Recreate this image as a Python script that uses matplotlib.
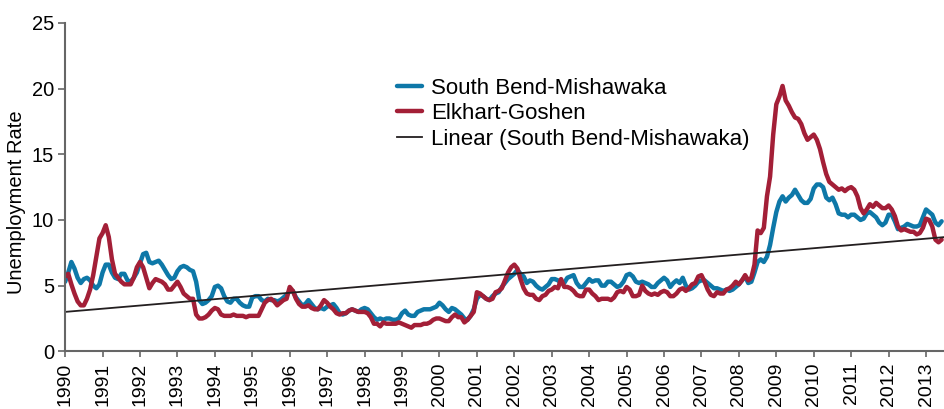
import numpy as np
import matplotlib
matplotlib.use("Agg")
import matplotlib.pyplot as plt

plt.rcParams['font.family'] = ['Liberation Sans', 'DejaVu Sans']

# Monthly unemployment rate, Jan 1990 - Jun 2013
south_bend = [
    5.3, 6.0, 6.8, 6.3, 5.6, 5.2, 5.5, 5.6, 5.4, 5.0, 4.8, 5.1,   # 1990
    6.0, 6.6, 6.6, 6.0, 5.6, 5.5, 5.9, 5.9, 5.4, 5.3, 5.6, 6.0,   # 1991
    6.7, 7.4, 7.5, 6.8, 6.7, 6.8, 6.9, 6.6, 6.2, 5.8, 5.5, 5.6,   # 1992
    6.1, 6.4, 6.5, 6.4, 6.2, 6.1, 5.3, 3.9, 3.6, 3.7, 3.9, 4.2,   # 1993
    4.9, 5.0, 4.8, 4.2, 3.8, 3.7, 4.0, 4.0, 3.7, 3.5, 3.4, 3.4,   # 1994
    4.1, 4.2, 4.2, 3.9, 3.8, 4.0, 3.9, 3.9, 3.8, 3.9, 4.1, 4.3,   # 1995
    4.6, 4.6, 4.1, 3.8, 3.5, 3.6, 3.9, 3.6, 3.3, 3.2, 3.3, 3.2,   # 1996
    3.4, 3.5, 3.6, 3.3, 2.9, 2.8, 2.9, 3.1, 3.2, 3.1, 3.0, 3.2,   # 1997
    3.3, 3.2, 2.9, 2.6, 2.4, 2.5, 2.4, 2.5, 2.5, 2.4, 2.4, 2.5,   # 1998
    2.9, 3.1, 2.8, 2.7, 2.7, 3.0, 3.1, 3.2, 3.2, 3.2, 3.3, 3.4,   # 1999
    3.7, 3.5, 3.2, 3.0, 3.3, 3.2, 3.0, 2.8, 2.5, 2.4, 2.7, 3.2,   # 2000
    4.0, 4.3, 4.2, 4.0, 3.9, 4.2, 4.4, 4.5, 4.9, 5.2, 5.5, 5.7,   # 2001
    5.9, 6.2, 5.9, 5.7, 5.2, 5.4, 5.3, 5.0, 4.8, 4.7, 4.9, 5.1,   # 2002
    5.5, 5.5, 5.4, 5.2, 5.2, 5.6, 5.7, 5.8, 5.2, 4.9, 4.9, 5.2,   # 2003
    5.5, 5.3, 5.4, 5.4, 5.0, 5.0, 5.3, 5.3, 5.1, 4.9, 5.0, 5.3,   # 2004
    5.8, 5.9, 5.7, 5.3, 5.2, 5.3, 5.2, 5.1, 4.9, 4.9, 5.2, 5.4,   # 2005
    5.6, 5.4, 4.9, 5.2, 5.4, 5.2, 5.6, 5.0, 4.7, 4.8, 5.0, 5.3,   # 2006
    5.4, 5.4, 5.2, 5.0, 4.8, 4.8, 4.7, 4.6, 4.7, 4.6, 4.7, 4.9,   # 2007
    5.1, 5.4, 5.7, 5.2, 5.3, 6.0, 6.8, 7.0, 6.8, 7.2, 8.1, 9.4,   # 2008
    10.6, 11.4, 11.8, 11.4, 11.7, 11.9, 12.3, 11.9, 11.5, 11.3, 11.3, 11.6,  # 2009
    12.4, 12.7, 12.7, 12.5, 11.7, 11.5, 11.7, 11.2, 10.5, 10.4, 10.4, 10.2,  # 2010
    10.4, 10.4, 10.2, 10.0, 10.1, 10.5, 10.6, 10.4, 10.2, 9.8, 9.6, 9.8,     # 2011
    10.4, 10.4, 9.9, 9.3, 9.4, 9.5, 9.7, 9.6, 9.5, 9.5, 9.6, 10.2,           # 2012
    10.8, 10.6, 10.4, 9.8, 9.6, 9.9,                                          # 2013
]

elkhart = [
    5.7, 5.9, 5.1, 4.4, 3.8, 3.5, 3.5, 4.0, 4.7, 5.8, 7.2, 8.6,   # 1990
    9.0, 9.6, 8.7, 7.0, 5.9, 5.6, 5.3, 5.1, 5.1, 5.1, 5.6, 6.4,   # 1991
    6.8, 6.4, 5.6, 4.8, 5.2, 5.5, 5.4, 5.3, 5.1, 4.7, 4.7, 5.0,   # 1992
    5.3, 4.9, 4.4, 4.2, 4.0, 4.0, 2.8, 2.5, 2.5, 2.6, 2.8, 3.1,   # 1993
    3.3, 3.2, 2.8, 2.7, 2.7, 2.7, 2.8, 2.7, 2.7, 2.7, 2.6, 2.7,   # 1994
    2.7, 2.7, 2.7, 3.2, 3.7, 3.9, 4.0, 3.8, 3.5, 3.7, 3.9, 4.0,   # 1995
    4.9, 4.6, 4.0, 3.6, 3.4, 3.4, 3.5, 3.3, 3.2, 3.2, 3.5, 3.9,   # 1996
    3.7, 3.4, 3.2, 2.9, 2.8, 2.9, 2.9, 3.1, 3.2, 3.1, 3.0, 3.0,   # 1997
    3.0, 2.9, 2.6, 2.1, 2.1, 1.9, 2.2, 2.1, 2.1, 2.1, 2.1, 2.2,   # 1998
    2.1, 2.0, 1.9, 1.8, 2.0, 2.0, 2.0, 2.1, 2.1, 2.2, 2.4, 2.5,   # 1999
    2.5, 2.4, 2.3, 2.3, 2.6, 2.8, 2.6, 2.6, 2.2, 2.4, 2.7, 3.0,   # 2000
    4.5, 4.4, 4.2, 4.0, 3.9, 4.0, 4.5, 4.6, 4.8, 5.4, 6.0, 6.4,   # 2001
    6.6, 6.3, 5.5, 4.8, 4.4, 4.3, 4.3, 4.0, 3.9, 4.2, 4.3, 4.6,   # 2002
    4.7, 4.9, 4.8, 5.5, 4.9, 4.9, 4.8, 4.6, 4.3, 4.2, 4.2, 4.7,   # 2003
    4.7, 4.4, 4.2, 3.9, 4.0, 4.0, 4.0, 3.9, 4.1, 4.5, 4.6, 4.5,   # 2004
    4.9, 4.7, 4.2, 4.2, 4.3, 5.0, 4.6, 4.4, 4.3, 4.4, 4.3, 4.5,   # 2005
    4.6, 4.5, 4.2, 4.2, 4.4, 4.7, 4.8, 4.6, 4.8, 5.1, 5.2, 5.7,   # 2006
    5.8, 5.3, 4.7, 4.3, 4.2, 4.5, 4.4, 4.4, 4.7, 4.8, 5.0, 5.3,   # 2007
    5.1, 5.4, 5.8, 5.4, 5.6, 6.6, 9.2, 9.0, 9.4, 11.8, 13.3, 16.5,           # 2008
    18.8, 19.4, 20.2, 19.1, 18.7, 18.2, 17.8, 17.7, 17.3, 16.6, 16.1, 16.3,  # 2009
    16.5, 16.1, 15.4, 14.4, 13.5, 12.9, 12.7, 12.5, 12.3, 12.4, 12.2, 12.4,  # 2010
    12.5, 12.3, 11.8, 10.9, 10.5, 10.8, 11.2, 11.0, 11.3, 11.1, 10.9, 10.9,  # 2011
    11.1, 10.8, 10.3, 9.5, 9.2, 9.3, 9.2, 9.1, 9.1, 8.9, 9.0, 9.4,           # 2012
    10.1, 10.0, 9.5, 8.5, 8.3, 8.5,                                           # 2013
]

years = list(range(1990, 2014))
t = 1990 + np.arange(len(south_bend)) / 12.0

# Linear trendline of South Bend (like Excel's)
coef = np.polyfit(t, south_bend, 1)
t_fit = np.array([t[0], 2013.48])
trend = np.polyval(coef, t_fit)

fig = plt.figure(figsize=(9.44, 4.09), dpi=100)
ax = fig.add_axes([0.069, 0.141, 0.931, 0.803])

ax.plot(t, south_bend, color='#0e78a8', lw=3.2, label='South Bend-Mishawaka', solid_capstyle='round')
ax.plot(t, elkhart, color='#a31f37', lw=3.2, label='Elkhart-Goshen', solid_capstyle='round')
ax.plot(t_fit, trend, color='#231f20', lw=1.3, label='Linear (South Bend-Mishawaka)')

ax.set_xlim(1990, 2013.48)
ax.set_ylim(0, 25)
ax.set_xticks(years)
ax.set_xticklabels([str(y) for y in years], rotation=90, fontsize=14)
ax.set_yticks([0, 5, 10, 15, 20, 25])
ax.tick_params(axis='y', labelsize=14.5, length=5, width=1.2, color='#666666', pad=3)
ax.tick_params(axis='x', length=4, width=1.2, color='#666666', pad=4)
ax.set_ylabel('Unemployment Rate', fontsize=14.5)
ax.yaxis.set_label_coords(-0.044, 0.455)

for s in ['top', 'right']:
    ax.spines[s].set_visible(False)
for s in ['left', 'bottom']:
    ax.spines[s].set_color('#666666')
    ax.spines[s].set_linewidth(1.5)

ax.legend(loc='upper left', bbox_to_anchor=(0.368, 0.86), frameon=False,
          fontsize=16, handlelength=1.1, handletextpad=0.4, labelspacing=0.2,
          borderaxespad=0.0)

fig.savefig('out.png', dpi=100)
